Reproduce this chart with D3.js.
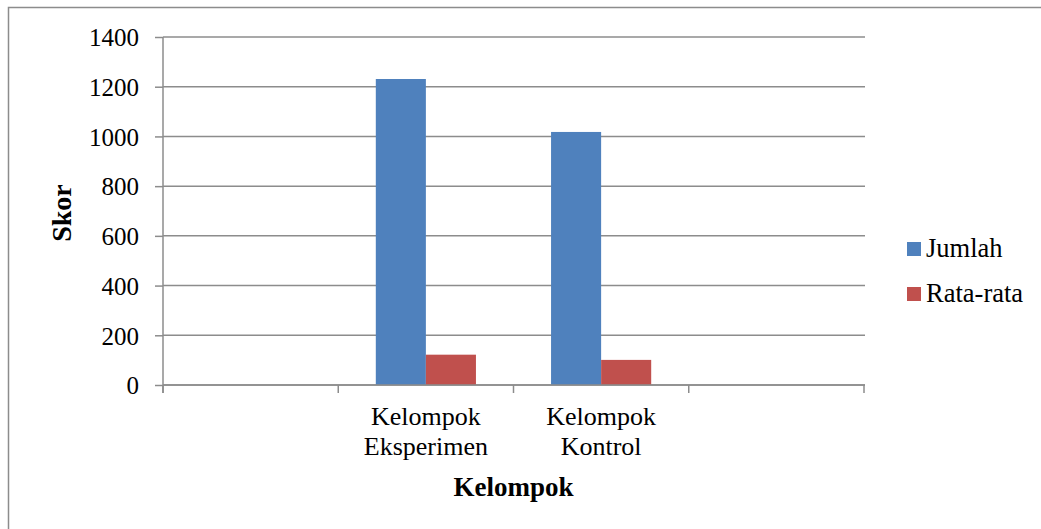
<!DOCTYPE html>
<html>
<head>
<meta charset="utf-8">
<script src="https://cdn.jsdelivr.net/npm/d3@7"></script>
<style>
  body { margin: 0; background: #fff; }
  svg text { font-family: "Liberation Serif", "DejaVu Serif", "Times New Roman", Times, serif !important; fill: #000; }
</style>
</head>
<body>
<div id="chart"></div>
<script>
// data
var categories = ["", "Kelompok\nEksperimen", "Kelompok\nKontrol", ""];
var seriesNames = ["Jumlah", "Rata-rata"];
var jumlah = [null, 1231, 1018, null];
var rataRata = [null, 122, 101, null];
var yTicks = [0, 200, 400, 600, 800, 1000, 1200, 1400];
var colors = ["#4F81BD", "#C0504D"];

var svgWidth = 1041;
var svgHeight = 529;

var margin = { top: 37, right: 177, bottom: 144, left: 163 };
var width = svgWidth - margin.left - margin.right;   // 701
var height = svgHeight - margin.top - margin.bottom; // 348

var serif = "'Liberation Serif', 'DejaVu Serif', serif";

var svg = d3.select("#chart")
  .append("svg")
  .attr("width", svgWidth)
  .attr("height", svgHeight)
  .style("font-family", serif);

// outer border, runs off the right and bottom edge
svg.append("rect")
  .attr("x", 8.5)
  .attr("y", 7.5)
  .attr("width", svgWidth + 10)
  .attr("height", svgHeight + 10)
  .attr("fill", "none")
  .attr("stroke", "#8c8c8c")
  .attr("stroke-width", 1.5);

var chartGroup = svg.append("g")
  .attr("transform", `translate(${margin.left}, ${margin.top})`);

var x0 = d3.scaleBand()
  .domain(d3.range(categories.length))
  .range([0, width])
  .paddingInner(0)
  .paddingOuter(0);

var x1 = d3.scaleBand()
  .domain(seriesNames)
  .range([0, x0.bandwidth()])
  .paddingInner(0)
  .paddingOuter(0.75);

var y = d3.scaleLinear()
  .domain([0, 1400])
  .range([height, 0]);

// gridlines
chartGroup.append("g")
  .selectAll("line")
  .data(yTicks)
  .enter()
  .append("line")
  .attr("x1", 0)
  .attr("x2", width + 1)
  .attr("y1", d => y(d))
  .attr("y2", d => y(d))
  .attr("stroke", "#8c8c8c")
  .attr("stroke-width", 1.5);

// bars
var series = [jumlah, rataRata];
series.forEach(function(vals, si) {
  chartGroup.append("g")
    .selectAll("rect")
    .data(vals.map((v, i) => ({ i: i, v: v })).filter(d => d.v != null))
    .enter()
    .append("rect")
    .attr("x", d => x0(d.i) + x1(seriesNames[si]))
    .attr("y", d => y(d.v))
    .attr("width", x1.bandwidth())
    .attr("height", d => height - y(d.v))
    .attr("fill", colors[si]);
});

// y axis
var leftAxis = d3.axisLeft(y)
  .tickValues(yTicks)
  .tickSize(8)
  .tickPadding(16)
  .tickFormat(d3.format("d"));

var yAxisG = chartGroup.append("g").call(leftAxis)
  .attr("font-family", serif);
yAxisG.select(".domain").attr("stroke", "#8c8c8c").attr("stroke-width", 1.5)
  .attr("d", `M0,${height + 8}V0`);
yAxisG.selectAll(".tick line").attr("stroke", "#8c8c8c").attr("stroke-width", 1.5);
yAxisG.selectAll(".tick text")
  .style("font-family", serif)
  .attr("font-size", "25px")
  .attr("dy", "0.35em");

// x axis
var bottomAxis = d3.axisBottom(x0).tickSize(0).tickFormat("");
var xAxisG = chartGroup.append("g")
  .attr("transform", `translate(0, ${height})`)
  .call(bottomAxis);
xAxisG.select(".domain").attr("stroke", "#8c8c8c").attr("stroke-width", 1.5)
  .attr("d", `M0,0H${width + 1}`);

// category tick marks at band edges
chartGroup.append("g")
  .selectAll("line")
  .data(d3.range(categories.length + 1))
  .enter()
  .append("line")
  .attr("x1", d => d === categories.length ? width : x0(d))
  .attr("x2", d => d === categories.length ? width : x0(d))
  .attr("y1", height)
  .attr("y2", height + 8)
  .attr("stroke", "#8c8c8c")
  .attr("stroke-width", 1.5);

// category labels (two lines)
categories.forEach(function(c, i) {
  if (!c) return;
  var t = chartGroup.append("text")
    .attr("text-anchor", "middle")
    .attr("font-size", "26px")
    .style("font-family", serif)
    .attr("transform", `translate(${x0(i) + x0.bandwidth() / 2}, ${height + 40})`);
  c.split("\n").forEach(function(line, k) {
    t.append("tspan").attr("x", 0).attr("dy", k === 0 ? 0 : 30).text(line);
  });
});

// axis titles
svg.append("text")
  .attr("transform", "translate(71, 213) rotate(-90)")
  .attr("text-anchor", "middle")
  .attr("font-size", "28px")
  .attr("font-weight", "bold")
  .style("font-family", serif)
  .text("Skor");

svg.append("text")
  .attr("x", margin.left + width / 2)
  .attr("y", 496)
  .attr("text-anchor", "middle")
  .attr("font-size", "27px")
  .attr("font-weight", "bold")
  .style("font-family", serif)
  .text("Kelompok");

// legend
var legend = svg.append("g").attr("transform", "translate(907, 242)");
seriesNames.forEach(function(name, i) {
  var g = legend.append("g").attr("transform", `translate(0, ${i * 45})`);
  g.append("rect").attr("width", 14).attr("height", 14).attr("fill", colors[i]);
  g.append("text")
    .attr("x", 19)
    .attr("y", 15)
    .attr("font-size", "26.5px")
    .style("font-family", serif)
    .text(name);
});
</script>
</body>
</html>
